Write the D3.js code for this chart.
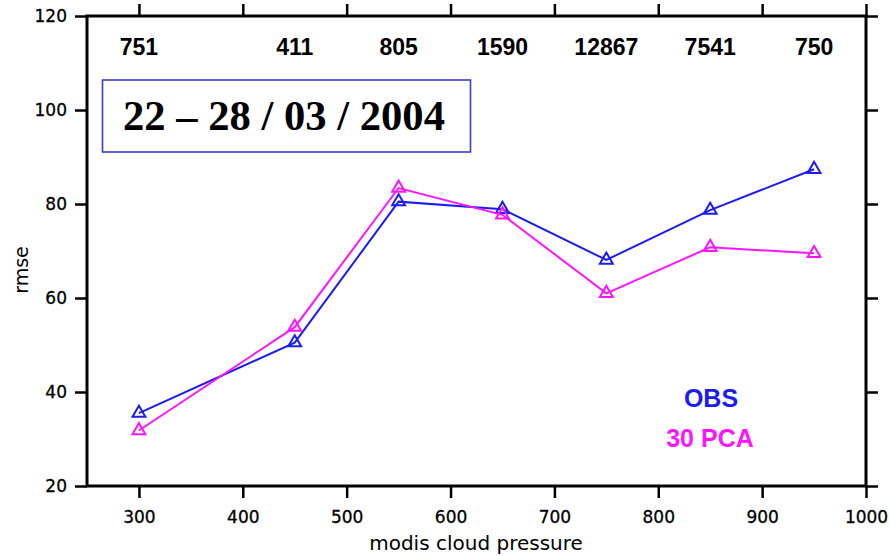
<!DOCTYPE html>
<html>
<head>
<meta charset="utf-8">
<script src="https://cdn.jsdelivr.net/npm/d3@7/dist/d3.min.js"></script>
<style>
  html, body { margin: 0; padding: 0; background: #fff; }
  svg { display: block; }
</style>
</head>
<body>
<div id="chart"></div>
<script>
// Cloud-pressure bins (hPa) and RMSE per bin
const pressures = [300, 450, 550, 650, 750, 850, 950];
const obsRmse   = [35.5, 50.5, 80.5, 78.9, 68.1, 78.7, 87.4];
const pcaRmse   = [31.8, 53.8, 83.4, 77.7, 61.0, 70.8, 69.5];
// Number of observations in each bin
const counts    = ["751", "411", "805", "1590", "12867", "7541", "750"];
const xTicks    = [300, 400, 500, 600, 700, 800, 900, 1000];
const yTicks    = [20, 40, 60, 80, 100, 120];
const seriesNames = ["OBS", "30 PCA"];
const periodLabel = "22 – 28 / 03 / 2004";

const W = 890, H = 556;
const plotLeft = 87, plotRight = 866, plotTop = 16, plotBottom = 486;

const svg = d3.select("#chart").append("svg")
  .attr("width", W).attr("height", H);

const x = d3.scaleLinear().domain([250, 1000]).range([plotLeft, plotRight]);
const y = d3.scaleLinear().domain([20, 120]).range([plotBottom, plotTop]);

const tickFont = "'DejaVu Sans', sans-serif";

// Axes on all four sides, ticks pointing outward
const axB = svg.append("g").attr("transform", `translate(0,${plotBottom})`)
  .call(d3.axisBottom(x).tickValues(xTicks).tickSize(12).tickPadding(10).tickFormat(d3.format("d")));
const axT = svg.append("g").attr("transform", `translate(0,${plotTop})`)
  .call(d3.axisTop(x).tickValues(xTicks).tickSize(12).tickFormat(""));
const axL = svg.append("g").attr("transform", `translate(${plotLeft},0)`)
  .call(d3.axisLeft(y).tickValues(yTicks).tickSize(12).tickPadding(8).tickFormat(d3.format("d")));
const axR = svg.append("g").attr("transform", `translate(${plotRight},0)`)
  .call(d3.axisRight(y).tickValues(yTicks).tickSize(12).tickFormat(""));

[axB, axT, axL, axR].forEach(g => {
  g.select(".domain").remove();
  g.selectAll(".tick line").attr("stroke", "#000").attr("stroke-width", 2.5);
  g.selectAll(".tick text")
    .attr("font-family", tickFont).attr("font-size", 17)
    .attr("fill", "#000").attr("stroke", "#000").attr("stroke-width", 0.3);
});
axB.selectAll(".tick text").attr("dy", "0.9em");

// Plot frame
svg.append("rect")
  .attr("x", plotLeft).attr("y", plotTop)
  .attr("width", plotRight - plotLeft).attr("height", plotBottom - plotTop)
  .attr("fill", "none").attr("stroke", "#000").attr("stroke-width", 3);

// Axis titles
svg.append("text")
  .attr("x", 476).attr("y", 550)
  .attr("text-anchor", "middle")
  .attr("font-family", "'DejaVu Sans', sans-serif")
  .attr("font-size", 20)
  .text("modis cloud pressure");

svg.append("text")
  .attr("transform", "translate(28,270) rotate(-90)")
  .attr("text-anchor", "middle")
  .attr("font-family", "'DejaVu Sans', sans-serif")
  .attr("font-size", 19)
  .text("rmse");

// Observation counts along the top
svg.append("g").selectAll("text")
  .data(counts)
  .join("text")
  .attr("x", (d, i) => x(pressures[i]))
  .attr("y", 55)
  .attr("text-anchor", "middle")
  .attr("font-family", "'Liberation Sans Narrow', 'Liberation Sans', Arial, sans-serif")
  .attr("font-weight", "bold")
  .attr("font-size", 23)
  .text(d => d);

// Period box
svg.append("rect")
  .attr("x", 102.5).attr("y", 80)
  .attr("width", 368).attr("height", 72)
  .attr("fill", "#fff").attr("stroke", "#3b3bd6").attr("stroke-width", 1.6);
svg.append("text")
  .attr("x", 123).attr("y", 130)
  .attr("font-family", "'Liberation Serif', 'Times New Roman', serif")
  .attr("font-weight", "bold")
  .attr("font-size", 43)
  .attr("textLength", 322)
  .attr("lengthAdjust", "spacingAndGlyphs")
  .text(periodLabel);

// Series lines with open triangle markers
const series = [
  { name: seriesNames[0], values: obsRmse, color: "#1c1cf0" },
  { name: seriesNames[1], values: pcaRmse, color: "#ff14ff" }
];

const line = d3.line().x(d => x(d[0])).y(d => y(d[1]));
const tri = d3.symbol().type(d3.symbolTriangle).size(72);

series.forEach(s => {
  const pts = pressures.map((p, i) => [p, s.values[i]]);
  svg.append("path")
    .attr("d", line(pts))
    .attr("fill", "none")
    .attr("stroke", s.color)
    .attr("stroke-width", 2);
  svg.append("g").selectAll("path")
    .data(pts)
    .join("path")
    .attr("transform", d => `translate(${x(d[0])},${y(d[1])})`)
    .attr("d", tri)
    .attr("fill", "none")
    .attr("stroke", s.color)
    .attr("stroke-width", 2);
});

// Legend
svg.append("text")
  .attr("x", 711).attr("y", 407)
  .attr("text-anchor", "middle")
  .attr("font-family", "'Liberation Sans', Arial, sans-serif")
  .attr("font-weight", "bold")
  .attr("font-size", 25)
  .attr("fill", series[0].color)
  .text(series[0].name);
svg.append("text")
  .attr("x", 710).attr("y", 447)
  .attr("text-anchor", "middle")
  .attr("font-family", "'Liberation Sans', Arial, sans-serif")
  .attr("font-weight", "bold")
  .attr("font-size", 25)
  .attr("fill", series[1].color)
  .text(series[1].name);
</script>
</body>
</html>
